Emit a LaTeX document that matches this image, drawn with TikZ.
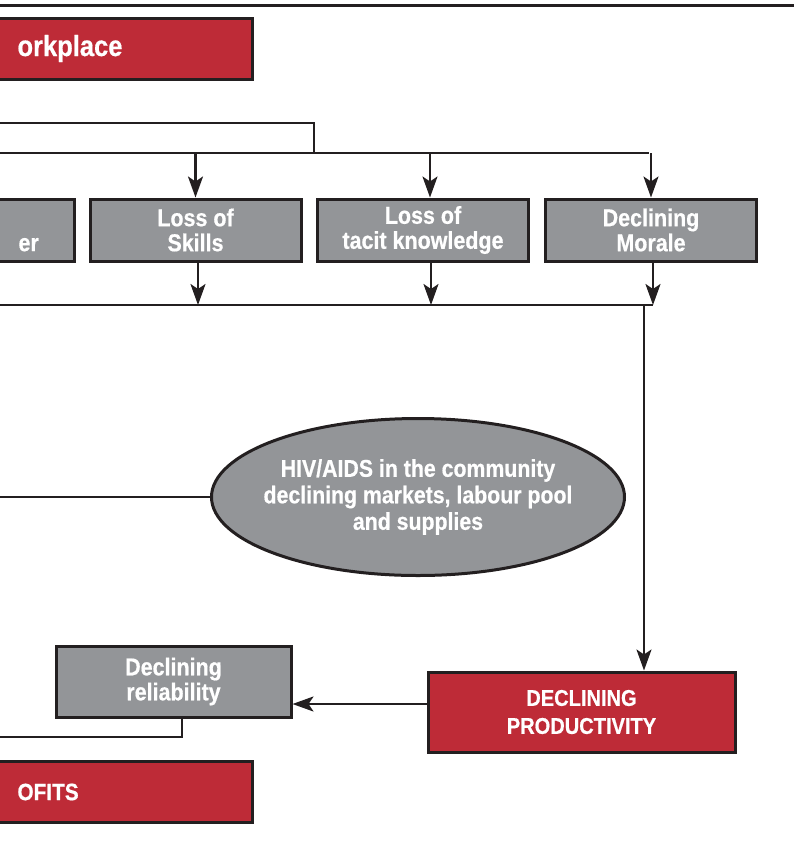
\documentclass[tikz,border=0pt]{standalone}
\usepackage{fontspec}
\setmainfont{Liberation Sans}[FakeStretch=0.88, BoldFeatures={FakeBold=0.6}]
\usetikzlibrary{arrows.meta,shapes.geometric}
\definecolor{redfill}{HTML}{BE2B37}
\definecolor{boxgray}{HTML}{939598}
\definecolor{inkline}{HTML}{231F20}

\begin{document}
\begin{tikzpicture}
		[x=0.5pt, y=-0.5pt,
		block/.style ={rectangle, draw=inkline, line width=1.5pt, fill=boxgray, text=white, font=\fontsize{12.2}{12.5}\selectfont\bfseries, align=center, inner sep=0pt, minimum width=105.5pt, minimum height=31pt},
		redblock/.style ={block, fill=redfill, font=\fontsize{11.4}{14}\selectfont\bfseries},
		bar/.style ={redblock, minimum height=30.5pt, align=left, inner xsep=13pt, text width=104.5pt},
		cloud/.style ={draw=inkline, line width=1.5pt, ellipse, fill=boxgray, text=white, font=\fontsize{12.1}{13.25}\selectfont\bfseries, align=center, inner xsep=-6pt, inner ysep=0pt, minimum width=206.5pt, minimum height=78.5pt},
		line/.style ={draw=inkline, line width=1.2pt, -{Stealth[length=10.5pt,width=7.5pt,inset=2.5pt]}},
		wire/.style ={draw=inkline, line width=1.2pt},
		]

		\clip (0,0) rectangle (794,843);
		\draw[wire, line width=1.5pt] (0,5) -- (794,5);

		\draw (-10,48.5) node[bar, anchor=west, font=\fontsize{14.5}{16}\selectfont\bfseries] (T1) {orkplace};
		\draw (-10,792) node[bar, anchor=west, font=\fontsize{11.8}{14}\selectfont\bfseries] (T2) {OFITS};

		\draw (-10,230) node[block, anchor=west, minimum width=41.5pt, text width=14.5pt, inner xsep=13.5pt, align=left] (B0) {\strut\\er};
		\draw (195.5,230) node[block] (B1) {Loss of\\Skills};
		\draw (423,230) node[block] (B2) {Loss of\\tacit knowledge};
		\draw (651,230) node[block] (B3) {Declining\\Morale};

		\draw (418,497) node[cloud] (E) {HIV/AIDS in the community\\declining markets, labour pool\\and supplies};

		\draw (581.5,712) node[redblock, minimum width=153.5pt, minimum height=40pt] (P) {DECLINING\\PRODUCTIVITY};
		\draw (173.5,681.5) node[block, minimum width=117.5pt, minimum height=35.5pt] (R) {Declining\\reliability};

		% feeds into the three boxes
		\coordinate (feedL) at (0,123);
		\coordinate (feedR) at (314,153);
		\coordinate (busL) at (0,153);
		\coordinate (busR) at (649,153);
		\draw[wire] (feedL) -| (feedR);
		\draw[wire] (busL) -- (busR);
		\draw[line] (B1.north |- busL) -- (B1.north);
		\draw[line] ([xshift=3.5pt]B2.north |- busL) -- ([xshift=3.5pt]B2.north);
		\draw[line] (B3.north |- busR) -- (B3.north);

		% collecting line
		\coordinate (sumL) at (0,305);
		\coordinate (sumR) at (653,305);
		\coordinate (drop) at (644,305);
		\draw[line] ([xshift=1.25pt]B1.south) -- ([xshift=1.25pt]B1.south |- sumL);
		\draw[line] ([xshift=4pt]B2.south) -- ([xshift=4pt]B2.south |- sumL);
		\draw[line] ([xshift=1pt]B3.south) -- ([xshift=1pt]B3.south |- sumL);
		\draw[wire] (sumL) -- (sumR);
		\draw[line] (drop) -- (drop |- P.north);

		\coordinate (commL) at (0,497);
		\draw[wire] (commL) -- (E.west);

		\draw[line] ([yshift=4pt]P.west) -- ([yshift=4pt]P.west -| R.east);
		\coordinate (relL) at (0,737);
		\draw[wire] ([xshift=4.25pt]R.south) |- (relL);
	\end{tikzpicture}
\end{document}
